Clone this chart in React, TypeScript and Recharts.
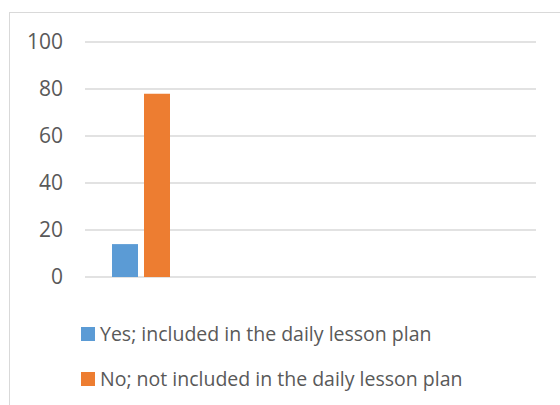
import { Bar, BarChart, CartesianGrid, Legend, XAxis, YAxis } from 'recharts'

const categories = ['A', 'B', 'C', 'D']
const yesValues = [14, null, null, null]
const noValues = [78, null, null, null]
const yTicks = [0, 20, 40, 60, 80, 100]

const SERIES = [
  { key: 'yes', name: 'Yes; included in the daily lesson plan', color: '#5B9BD5' },
  { key: 'no', name: 'No; not included in the daily lesson plan', color: '#ED7D31' },
]

const data = categories.map((c, i) => ({ cat: c, yes: yesValues[i], no: noValues[i] }))

const FONT = '"Open Sans", sans-serif'
const TEXT = '#595959'
const GRID = '#D9D9D9'

function LegendList() {
  return (
    <div style={{ fontFamily: FONT, fontSize: 19.5, color: TEXT }}>
      {SERIES.map((s) => (
        <div key={s.key} style={{ display: 'flex', alignItems: 'center', height: 45, lineHeight: '24px', whiteSpace: 'nowrap' }}>
          <span style={{ display: 'inline-block', width: 14, height: 14, background: s.color, marginRight: 5 }} />
          <span>{s.name}</span>
        </div>
      ))}
    </div>
  )
}

export default function App() {
  return (
    <div style={{ position: 'absolute', left: 0, top: 0, width: 560, height: 405, background: '#fff', overflow: 'hidden' }}>
      <div style={{ position: 'absolute', left: 9, top: 12, width: 600, height: 450, border: `1px solid ${GRID}` }} />
      <div style={{ position: 'absolute', left: 0, top: 0 }}>
        <BarChart width={560} height={405} data={data} margin={{ top: 42, right: 24, left: 25, bottom: 128 }} barGap={6}>
          <CartesianGrid stroke={GRID} strokeWidth={1.3} vertical={false} />
          <XAxis dataKey="cat" hide />
          <YAxis
            domain={[0, 100]}
            ticks={yTicks}
            width={60}
            tickSize={0}
            tickMargin={22}
            axisLine={false}
            tickLine={false}
            tick={{ fontSize: 21, fill: TEXT, fontFamily: FONT }}
          />
          <Legend
            layout="vertical"
            align="center"
            verticalAlign="middle"
            wrapperStyle={{ left: 81, top: 311, width: 'auto' }}
            content={() => <LegendList />}
          />
          {SERIES.map((s) => (
            <Bar key={s.key} dataKey={s.key} name={s.name} fill={s.color} barSize={26} isAnimationActive={false} />
          ))}
        </BarChart>
      </div>
    </div>
  )
}
